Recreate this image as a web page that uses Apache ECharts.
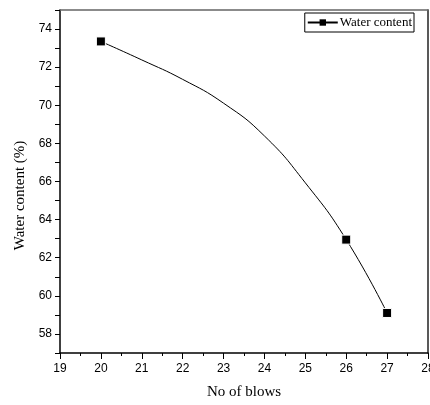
<!DOCTYPE html>
<html>
<head>
<meta charset="utf-8">
<script src="https://cdn.jsdelivr.net/npm/echarts@6/dist/echarts.min.js"></script>
<style>
  html, body { margin: 0; padding: 0; background: #fff; }
  #chart { width: 430px; height: 405px; }
</style>
</head>
<body>
<div id="chart"></div>
<script>
// measured points (square markers)
const blows = [20, 26, 27];
const waterContent = [73.35, 62.95, 59.1];
// values
const curveBlows = [20, 21, 22, 23, 24, 25, 26, 27];
const curveWater = [73.35, 72.38, 71.36, 70.11, 68.39, 65.93, 62.95, 59.1];
const seriesName = 'Water content';

const chart = echarts.init(document.getElementById('chart'));
const serif = '"Liberation Serif", "Times New Roman", serif';
const sans = '"Liberation Sans", Arial, sans-serif';

chart.setOption({
  animation: false,
  grid: { left: 60, right: 2, top: 10, bottom: 52, containLabel: false, outerBoundsMode: 'none' },
  legend: {
    data: [seriesName],
    right: 16, top: 13,
    padding: [3, 2, 3, 2],
    borderColor: '#000', borderWidth: 1,
    itemWidth: 30, itemHeight: 8, itemGap: 0,
    textStyle: { fontFamily: serif, fontSize: 13, color: '#000', padding: [0, 0, 0, -3] }
  },
  xAxis: [{
    type: 'value', min: 19, max: 28, interval: 1,
    name: 'No of blows', nameLocation: 'middle', nameGap: 32,
    nameTextStyle: { fontFamily: serif, fontSize: 15, color: '#000' },
    axisLine: { lineStyle: { color: '#000', width: 1.5 } },
    axisTick: { length: 6, lineStyle: { color: '#000' } },
    minorTick: { show: true, splitNumber: 2, length: 3, lineStyle: { color: '#000' } },
    axisLabel: { fontFamily: sans, fontSize: 12, color: '#000', margin: 10 },
    splitLine: { show: false }
  }, {
    type: 'value', position: 'top', min: 19, max: 28, interval: 1,
    axisLine: { show: true, lineStyle: { color: '#666', width: 1.5 } },
    axisTick: { show: false }, axisLabel: { show: false }, splitLine: { show: false }
  }],
  yAxis: [{
    type: 'value', min: 57, max: 75, interval: 1,
    name: 'Water content (%)', nameLocation: 'middle', nameGap: 31,
    nameTextStyle: { fontFamily: serif, fontSize: 15, color: '#000', padding: [0, 28, 0, 0] },
    axisLine: { show: true, lineStyle: { color: '#000', width: 1.5 } },
    axisTick: { length: 5, lineStyle: { color: '#000' } },
    axisLabel: {
      fontFamily: sans, fontSize: 12, color: '#000', margin: 8,
      formatter: v => (v % 2 === 0 ? String(v) : '')
    },
    splitLine: { show: false }
  }, {
    type: 'value', position: 'right', min: 57, max: 75, interval: 1,
    axisLine: { show: true, lineStyle: { color: '#222', width: 1.5 } },
    axisTick: { show: false }, axisLabel: { show: false }, splitLine: { show: false }
  }],
  series: [{
    name: seriesName,
    type: 'line',
    data: curveBlows.map((b, i) => [b, curveWater[i]]),
    smooth: 0.5,
    symbol: 'rect', symbolSize: 8, showSymbol: false,
    itemStyle: { color: '#000' },
    lineStyle: { color: '#000', width: 1 },
    z: 2
  }, {
    name: 'points',
    type: 'scatter',
    data: blows.map((b, i) => [b, waterContent[i]]),
    symbol: 'rect', symbolSize: 9,
    itemStyle: { color: '#000', opacity: 1, borderColor: '#fff', borderWidth: 1 },
    z: 3
  }]
});
</script>
</body>
</html>
